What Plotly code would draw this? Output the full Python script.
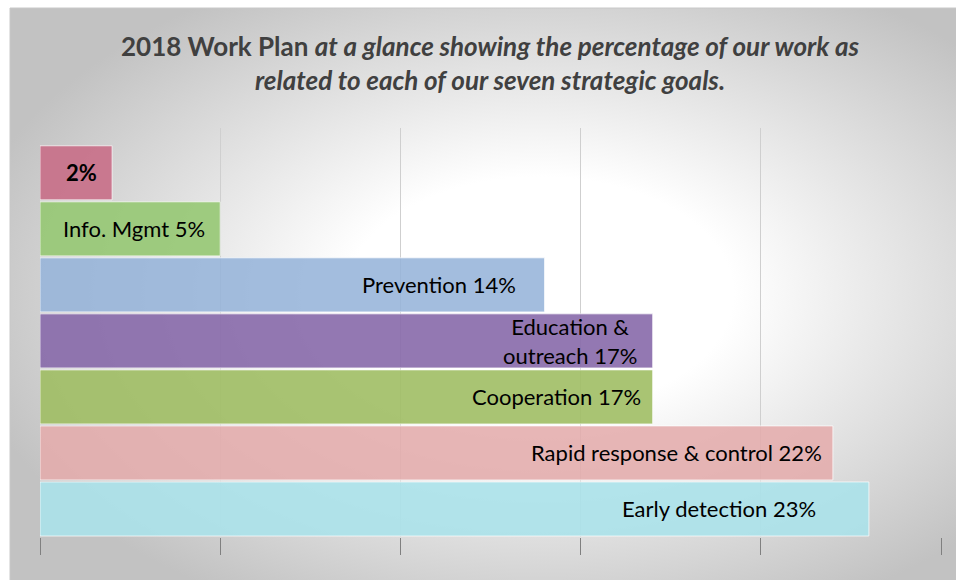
import base64
import plotly.graph_objects as go

# ---- data ----
goals = ["Other", "Info. Mgmt", "Prevention", "Education & outreach",
         "Cooperation", "Rapid response & control", "Early detection"]
percent = [2, 5, 14, 17, 17, 22, 23]
bar_labels = ["<b>2%</b>", "Info. Mgmt 5%", "Prevention 14%",
              "Education &<br>outreach 17%", "Cooperation 17%",
              "Rapid response & control 22%", "Early detection 23%"]
x_ticks = [0, 5, 10, 15, 20, 25]

# ---- styling ----
colors = ["rgba(200,110,135,0.9)", "rgba(150,200,115,0.9)", "rgba(150,180,218,0.88)",
          "rgba(135,105,170,0.9)", "rgba(160,190,100,0.9)", "rgba(228,172,172,0.88)",
          "rgba(170,226,234,0.88)"]
label_pad = [15, 15, 29, 16, 12, 11, 53]
W, H = 956, 580
FONT = "Lato"

svg = f'''<svg xmlns="http://www.w3.org/2000/svg" width="946" height="572">
<defs><radialGradient id="g" cx="0.56" cy="0.5" r="0.62" fx="0.56" fy="0.5">
<stop offset="0" stop-color="#ffffff"/><stop offset="0.33" stop-color="#ffffff"/>
<stop offset="1" stop-color="#c2c2c2"/></radialGradient></defs>
<rect width="946" height="572" fill="url(#g)"/></svg>'''
src = "data:image/svg+xml;base64," + base64.b64encode(svg.encode()).decode()

fig = go.Figure()
fig.add_trace(go.Bar(
    x=percent, y=goals, orientation="h",
    marker=dict(color=colors, line=dict(color="rgba(255,255,255,0.7)", width=1)),
    width=0.965, hoverinfo="skip", showlegend=False,
))

for g, v, t, p in zip(goals, percent, bar_labels, label_pad):
    fig.add_annotation(x=v, y=g, text=t, showarrow=False, xanchor="right",
                       xshift=-p + 2, align="center",
                       font=dict(family=FONT, size=22, color="#000000"))

fig.add_annotation(
    text="<b>2018 Work Plan <i>at a glance showing the percentage of our work as</i>"
         "<br><i>related to each of our seven strategic goals.</i></b>",
    xref="paper", yref="paper", x=490 / W, y=1 - 63 / H, xanchor="center",
    yanchor="middle", showarrow=False, align="center",
    font=dict(family=FONT, size=26, color="#404040"),
)

fig.update_layout(
    width=W, height=H,
    margin=dict(l=0, r=0, t=0, b=0),
    paper_bgcolor="white", plot_bgcolor="rgba(0,0,0,0)",
    images=[dict(source=src, xref="paper", yref="paper", x=10 / W, y=1 - 8 / H,
                 sizex=946 / W, sizey=572 / H, sizing="stretch", layer="below",
                 xanchor="left", yanchor="top")],
    shapes=[dict(type="rect", xref="paper", yref="paper", x0=10 / W, x1=1.01,
                 y0=-0.01, y1=1 - 8 / H, line=dict(color="#c8c8c8", width=1),
                 layer="below")],
    xaxis=dict(domain=[40 / W, 941 / W], range=[0, 25], tickvals=x_ticks,
               showticklabels=False, showgrid=True, gridcolor="#cfcfcf", gridwidth=1,
               zeroline=False, showline=False, ticks="outside", ticklen=17,
               tickcolor="#808080", tickwidth=1),
    yaxis=dict(domain=[1 - 537 / H, 1 - 128 / H], type="category",
               categoryorder="array", categoryarray=goals, range=[6.5, -0.8],
               showticklabels=False, showgrid=False, zeroline=False, showline=False,
               ticks=""),
    bargap=0.035,
)

fig.write_html("out.html")
